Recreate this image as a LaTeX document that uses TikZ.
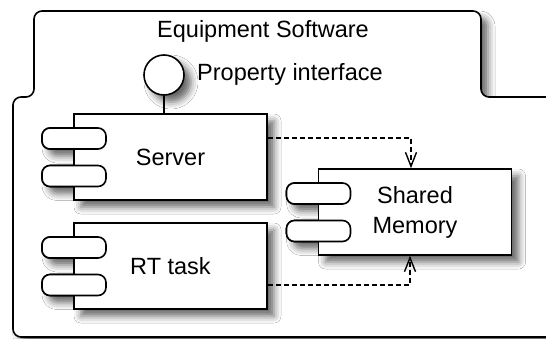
\documentclass[tikz,border=0pt]{standalone}
\usepackage{fontspec}
\setmainfont{Liberation Sans}
\usetikzlibrary{shadows.blur,arrows.meta,calc}

\tikzset{
  soft/.style={blur shadow={shadow xshift=7pt, shadow yshift=-7pt,
      shadow blur radius=7pt, shadow opacity=60}},
  outline/.style={draw=black, line width=1.6pt},
  pkg/.style={outline, fill=white, rounded corners=8pt, soft},
  compbox/.style={outline, fill=white, rectangle, minimum width=193pt,
      minimum height=86pt, inner sep=0pt, align=center, soft},
  pill/.style={outline, fill=white, rectangle, rounded corners=8pt,
      minimum width=64pt, minimum height=21pt, inner sep=0pt},
  iface/.style={outline, fill=white, circle, minimum size=40pt, inner sep=0pt, soft},
  dep/.style={draw=black, line width=1.4pt, dash pattern=on 5pt off 3pt,
      -{Straight Barb[length=14pt,width=11pt,line width=1.4pt]}},
  lbl/.style={font=\fontsize{23.5}{30}\selectfont, inner sep=0pt},
}

% A component: box with two tabs straddling its left edge.
% #1 name, #2 centre, #3 text
\newcommand\umlcomp[3]{%
  \coordinate (#1-c) at (#2);
  \foreach \dy in {-18.5,19}
    \node[pill, soft] at ([shift={(-96.5,\dy)}]#1-c) {};
  \node[compbox, lbl] (#1) at (#1-c) {#3};
  \foreach \dy in {-18.5,19}
    \node[pill] at ([shift={(-96.5,\dy)}]#1-c) {};
}

\begin{document}
\begin{tikzpicture}[x=1pt, y=-1pt]
  \useasboundingbox (0,0) rectangle (546,339);
  \fill[white] (0,0) rectangle (546,339);

  % package frame with its name tab
  \path[pkg] (13,337) -- (13,97) -- (34,97) -- (34,11) -- (481,11)
    -- (481,97) -- (570,97) -- (570,337) -- cycle;
  \node[lbl, anchor=base] (pkgname) at (263,38) {Equipment Software};

  % components
  \umlcomp{server}{170.5,157}{Server}
  \umlcomp{rt}{170.5,266}{RT task}
  \umlcomp{shm}{415,212}{Shared\\Memory}

  % provided interface of the server
  \node[iface] (prop) at (164,75) {};
  \node[lbl, anchor=base west] (proplabel) at (197,81) {Property interface};
  \draw[line width=1.6pt] (prop.south) -- (prop.south |- server.north);

  % dependencies on the shared memory
  \draw[dep] ([yshift=19pt]server.east) -| ([xshift=-4pt]shm.north);
  \draw[dep] ([yshift=-19pt]rt.east) -| ([xshift=-5pt]shm.south);
\end{tikzpicture}
\end{document}
